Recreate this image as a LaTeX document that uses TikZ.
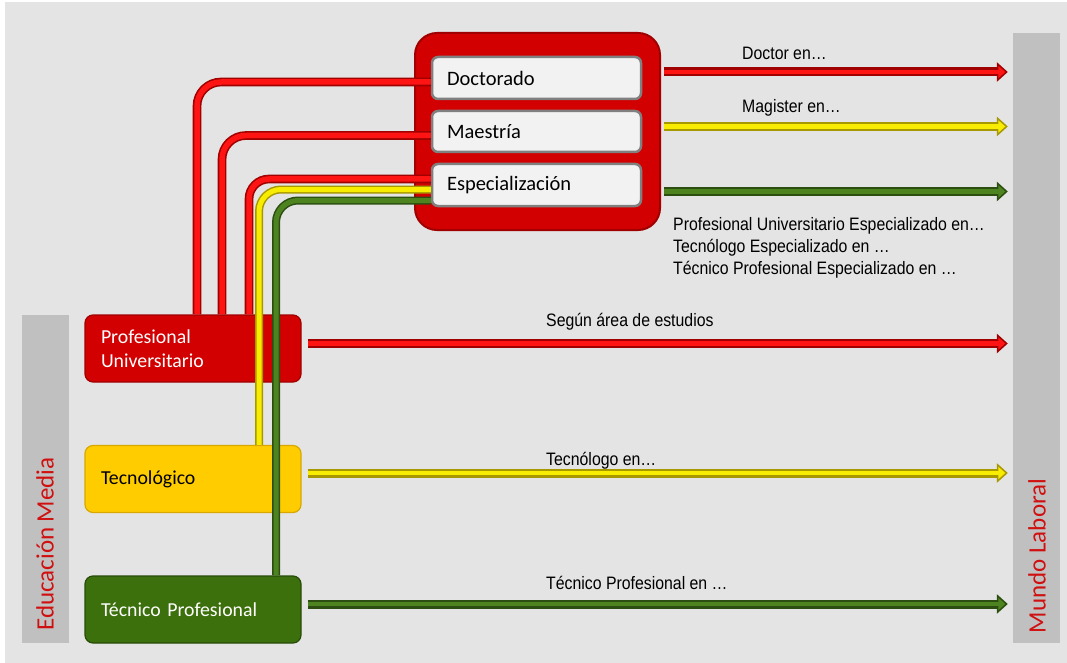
\documentclass[tikz,border=0pt]{standalone}
\usepackage{fontspec}
\setmainfont{Carlito}
\newfontfamily\narrowfont[FakeStretch=0.88]{Liberation Sans}
\usetikzlibrary{arrows.meta,calc}
\definecolor{bg}{HTML}{E4E4E4}
\definecolor{barg}{HTML}{C0C0C0}
\definecolor{labred}{HTML}{D01010}
\definecolor{boxred}{HTML}{D20000}
\definecolor{boxredd}{HTML}{A00000}
\definecolor{boxyel}{HTML}{FFCC00}
\definecolor{boxyeld}{HTML}{D8A800}
\definecolor{boxgrn}{HTML}{3C700C}
\definecolor{boxgrnd}{HTML}{274C08}
\definecolor{tredb}{HTML}{FF1414}
\definecolor{tredd}{HTML}{A00000}
\definecolor{tyelb}{HTML}{F8EC00}
\definecolor{tyeld}{HTML}{A89800}
\definecolor{tgrnb}{HTML}{4E8420}
\definecolor{tgrnd}{HTML}{2C4E10}
\definecolor{innerf}{HTML}{F2F2F2}
\definecolor{innerd}{HTML}{808080}
\newcommand{\flechaok}[4]{%
  \draw[line width=9pt, draw=#1, -{Triangle[width=19pt,length=11pt,fill=#1]}] (#3) -- (#4);
  \draw[line width=4.5pt, draw=#2, -{Triangle[width=12pt,length=7pt,fill=#2]}, shorten >=2.5pt] (#3) -- (#4);}
\tikzset{
  basebox/.style={rounded corners=8pt, minimum height=67pt, text width=184pt, inner xsep=16pt,
    align=left, font=\fontsize{19.8}{24.5}\selectfont, line width=1.2pt},
  innerbox/.style={rounded corners=6pt, minimum height=42pt, text width=179pt, inner xsep=15pt,
    align=left, font=\fontsize{20.5}{24}\selectfont, fill=innerf, draw=innerd, line width=2.5pt},
  bar/.style={fill=barg, inner sep=0pt},
  barlabel/.style={rotate=90, text=labred, font=\fontsize{25}{28}\selectfont},
  arrlabel/.style={anchor=west, inner sep=0pt, font=\narrowfont\fontsize{18}{22}\selectfont},
  redtube/.style={draw=tredd, double=tredb, double distance=5.5pt, line width=1.6pt, rounded corners=24pt},
  yeltube/.style={draw=tyeld, double=tyelb, double distance=5pt, line width=1.5pt, rounded corners=22pt},
  grntube/.style={draw=tgrnd, double=tgrnb, double distance=5pt, line width=1.5pt, rounded corners=22pt},
}
\begin{document}
\begin{tikzpicture}[x=1pt,y=-1pt]
\useasboundingbox (0,0) rectangle (1067,663);
\fill[bg] (5,2) rectangle (1067,663);
% side bars
\node[bar, minimum width=47pt, minimum height=328pt] (em) at (45.5,479) {};
\node[barlabel] (emt) at (45,544) {Educación Media};
\node[bar, minimum width=47pt, minimum height=610pt] (ml) at (1036.5,338) {};
\node[barlabel] (mlt) at (1037,556) {Mundo Laboral};
% bottom boxes
\node[basebox, fill=boxred, draw=boxredd, text=white] (pu) at (193,348.5) {Profesional\\Universitario};
\node[basebox, fill=boxyel, draw=boxyeld, text=black] (tec) at (193,479) {Tecnológico};
\node[basebox, fill=boxgrn, draw=boxgrnd, text=white] (tp) at (193,609.5) {Técnico Profesional};
% outer postgrad box
\node[rounded corners=22pt, fill=boxred, draw=boxredd, line width=2pt, minimum width=245pt, minimum height=197pt] (outer) at (537.5,131.5) {};
\node[innerbox] (doc) at (536.5,78) {Doctorado};
\node[innerbox, minimum height=41pt] (mae) at (536.5,131.5) {Maestría};
\node[innerbox] (esp) at (536.5,185) {Especialización};
% tubes
\coordinate (x1) at (197,0);
\coordinate (x2) at (222,0);
\coordinate (x3) at (249,0);
\coordinate (x4) at (259,0);
\coordinate (x5) at (276,0);
\draw[redtube] (x1 |- pu.north) |- ($(doc.west)+(0,4)$);
\draw[redtube] (x2 |- pu.north) |- ($(mae.west)+(0,4)$);
\draw[redtube, rounded corners=20pt] (x3 |- pu.north) |- ($(esp.west)+(0,-6)$);
\draw[yeltube] (x4 |- tec.north) |- ($(esp.west)+(0,4.5)$);
\draw[grntube] (x5 |- tp.north) |- ($(esp.west)+(0,15.5)$);
% arrows
\coordinate (s1) at ($(outer.east |- doc.west)+(3,-6)$);
\coordinate (e1) at ($(ml.west |- s1)+(-5,0)$);
\coordinate (s2) at ($(outer.east |- mae.west)+(3,-5)$);
\coordinate (e2) at ($(ml.west |- s2)+(-5,0)$);
\coordinate (s3) at ($(outer.east |- esp.west)+(3,6.5)$);
\coordinate (e3) at ($(ml.west |- s3)+(-5,0)$);
\coordinate (s4) at ($(pu.east)+(6,-5)$);
\coordinate (e4) at ($(ml.west |- s4)+(-5,0)$);
\coordinate (s5) at ($(tec.east)+(6,-6)$);
\coordinate (e5) at ($(ml.west |- s5)+(-5,0)$);
\coordinate (s6) at ($(tp.east)+(6,-5.5)$);
\coordinate (e6) at ($(ml.west |- s6)+(-5,0)$);
\flechaok{tredd}{tredb}{s1}{e1}
\flechaok{tyeld}{tyelb}{s2}{e2}
\flechaok{tgrnd}{tgrnb}{s3}{e3}
\flechaok{tredd}{tredb}{s4}{e4}
\flechaok{tyeld}{tyelb}{s5}{e5}
\flechaok{tgrnd}{tgrnb}{s6}{e6}
% labels
\node[arrlabel] (l1) at (742,53) {Doctor en…};
\node[arrlabel] (l2) at (742,108) {Magister en…};
\node[arrlabel, align=left] (l3) at (673,248) {Profesional Universitario Especializado en…\\Tecnólogo Especializado en …\\Técnico Profesional Especializado en …};
\node[arrlabel] (l4) at (546,322) {Según área de estudios};
\node[arrlabel] (l5) at (546,461) {Tecnólogo en…};
\node[arrlabel] (l6) at (546,583) {Técnico Profesional en …};
\end{tikzpicture}
\end{document}
